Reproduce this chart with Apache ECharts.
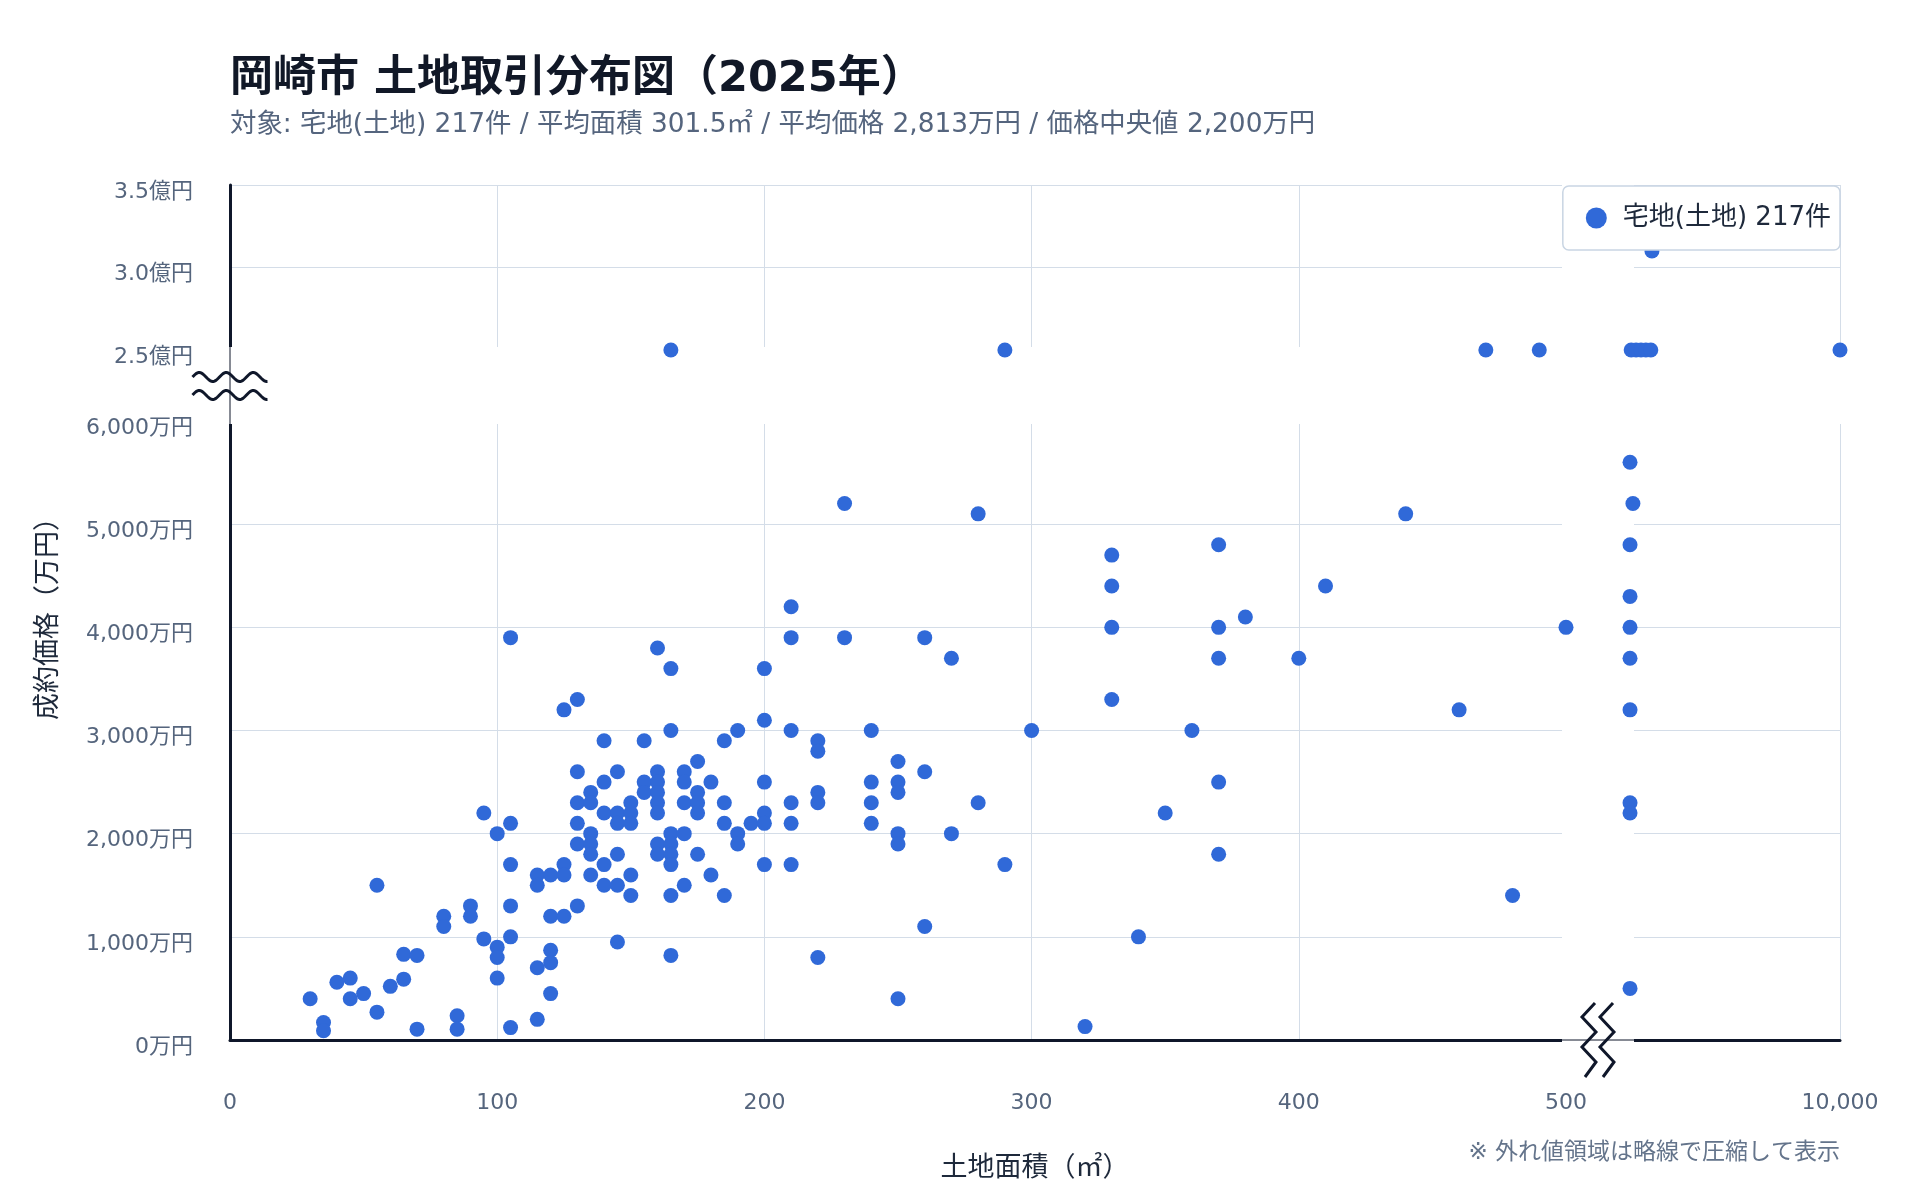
<!DOCTYPE html>
<html lang="ja">
<head>
<meta charset="utf-8">
<title>岡崎市 土地取引分布図</title>
<script src="https://cdn.jsdelivr.net/npm/echarts@6.0.0/dist/echarts.min.js"></script>
<style>
  html, body { margin: 0; padding: 0; background: #fff; }
  #landChart { width: 1920px; height: 1200px; }
</style>
</head>
<body>
<div id="landChart"></div>
<script>
// 取引データ [土地面積(㎡), 成約価格(万円)]
const deals = [
  [105, 3900], [125, 3200], [130, 3300], [140, 2900], [155, 2900], [130, 2600], [145, 2600], [140, 2500],
  [135, 2400], [130, 2300], [135, 2300], [140, 2200], [145, 2200], [150, 2300], [150, 2200], [145, 2100],
  [150, 2100], [155, 2500], [155, 2400], [130, 2100], [135, 2000], [130, 1900], [135, 1900], [135, 1800],
  [145, 1800], [140, 1700], [135, 1600], [140, 1500], [145, 1500], [150, 1600], [150, 1400], [130, 1300],
  [145, 950], [95, 2200], [100, 2000], [105, 2100], [105, 1700], [105, 1300], [105, 1000], [100, 900],
  [100, 800], [95, 980], [100, 600], [105, 120], [115, 1600], [115, 1500], [120, 1600], [125, 1700],
  [125, 1600], [120, 1200], [125, 1200], [120, 870], [120, 750], [115, 700], [120, 450], [115, 200],
  [90, 1300], [90, 1200], [80, 1200], [80, 1100], [55, 1500], [65, 830], [70, 820], [65, 590],
  [60, 520], [45, 600], [40, 560], [50, 450], [45, 400], [30, 400], [55, 270], [35, 170],
  [35, 90], [70, 105], [85, 235], [85, 105],
  [210, 4200], [210, 3900], [230, 3900], [260, 3900], [160, 3800], [165, 3600], [200, 3600], [270, 3700],
  [200, 3100], [165, 3000], [210, 3000], [240, 3000], [300, 3000], [190, 3000], [185, 2900], [220, 2900],
  [220, 2800], [175, 2700], [250, 2700], [260, 2600], [160, 2600], [170, 2600], [160, 2500], [170, 2500],
  [180, 2500], [200, 2500], [240, 2500], [250, 2500], [160, 2400], [175, 2400], [220, 2400], [250, 2400],
  [160, 2300], [170, 2300], [175, 2300], [185, 2300], [210, 2300], [220, 2300], [240, 2300], [280, 2300],
  [160, 2200], [175, 2200], [200, 2200], [185, 2100], [195, 2100], [200, 2100], [210, 2100], [240, 2100],
  [190, 2000], [190, 1900], [165, 2000], [170, 2000], [250, 2000], [250, 1900], [270, 2000], [160, 1900],
  [165, 1900], [160, 1800], [165, 1800], [165, 1700], [175, 1800], [200, 1700], [210, 1700], [290, 1700],
  [180, 1600], [170, 1500], [165, 1400], [185, 1400], [260, 1100], [165, 820], [220, 800], [250, 400],
  [230, 5200], [280, 5100],
  [440, 5100], [330, 4700], [370, 4800], [330, 4400], [410, 4400], [380, 4100], [330, 4000], [370, 4000],
  [370, 3700], [400, 3700], [330, 3300], [360, 3000], [460, 3200], [370, 2500], [350, 2200], [370, 1800],
  [480, 1400], [340, 1000], [320, 130], [500, 4000],
  // 外れ値（面積）
  [2720, 5600], [2820, 5200], [2720, 4800], [2720, 4300], [2720, 4000], [2720, 3700], [2720, 3200],
  [2720, 2300], [2720, 2200], [2720, 500],
  // 外れ値（価格）
  [165, 25000], [290, 25000], [470, 25000], [490, 25000],
  [2760, 25000], [2930, 25000], [3100, 25000], [3270, 25000], [3440, 25000], [3480, 31000], [10000, 25000]
];

const areaSplit = 500;
const areaMax = 10000;
const areaStep = 100;
const priceSplit = 6000;
const priceStep = 1000;
const priceTopMin = 25000;
const priceTopMax = 35000;
const priceTopStep = 5000;

const seriesName = '宅地(土地) 217件';
const titleText = '岡崎市 土地取引分布図（2025年）';
const subText = '対象: 宅地(土地) 217件 / 平均面積 301.5㎡ / 平均価格 2,813万円 / 価格中央値 2,200万円';
const xName = '土地面積（㎡）';
const yName = '成約価格（万円）';
const noteText = '※ 外れ値領域は略線で圧縮して表示';

// レイアウト(px)
const L = 230, XB = 1566, R = 1840;
const T = 185, YB = 350, Y6 = 421, B = 1040;

const font = "'DejaVu Sans', 'Noto Sans CJK JP', sans-serif";
const dotColor = '#3069d8';
const gridColor = '#d4dde8';
const axisColor = '#0f172a';
const labelColor = '#55657d';

const inMain = (d) => d[0] <= areaSplit;
const inLow = (d) => d[1] <= priceSplit;
const panels = [
  deals.filter((d) => inMain(d) && inLow(d)),
  deals.filter((d) => !inMain(d) && inLow(d)),
  deals.filter((d) => inMain(d) && !inLow(d)),
  deals.filter((d) => !inMain(d) && !inLow(d))
];

const split = { show: true, lineStyle: { color: gridColor, width: 1 } };
const thick = { show: true, onZero: false, lineStyle: { color: axisColor, width: 3 } };
const noLine = { show: false, onZero: false };
const label = { color: labelColor, fontSize: 22, fontFamily: font };

function wave(cx, cy) {
  const pts = [];
  for (let i = 0; i <= 75; i++) {
    pts.push([cx - 37.5 + i, cy - 4.5 * Math.sin((i / 27) * Math.PI * 2)]);
  }
  return pts;
}
function zigzag(cx) {
  return [[cx + 6, 1003], [cx - 7, 1017], [cx + 7, 1032], [cx - 7, 1047], [cx + 7, 1062], [cx - 4, 1077]];
}
const ink = { stroke: axisColor, lineWidth: 3, fill: 'none', lineJoin: 'miter' };

const option = {
  animation: false,
  backgroundColor: '#fff',
  textStyle: { fontFamily: font },
  title: {
    left: L,
    top: 55,
    padding: 0,
    itemGap: 5,
    text: titleText,
    subtext: subText,
    textStyle: { fontSize: 43, fontWeight: 'bold', color: '#111827', lineHeight: 50, fontFamily: font },
    subtextStyle: { fontSize: 26.4, color: '#55657e', lineHeight: 30, fontFamily: font }
  },
  legend: {
    right: 1920 - R,
    top: T + 1,
    icon: 'circle',
    itemWidth: 21,
    itemHeight: 21,
    padding: [19, 9, 19, 23],
    backgroundColor: '#fff',
    borderColor: '#c9d5e3',
    borderWidth: 1.5,
    borderRadius: 6,
    textStyle: { fontSize: 26, color: '#1e293b', padding: [0, 0, 0, 11], fontFamily: font },
    data: [seriesName]
  },
  grid: [
    { left: L, top: Y6, width: XB - L, height: B - Y6, outerBoundsMode: 'none' },
    { left: XB, top: Y6, width: R - XB, height: B - Y6, outerBoundsMode: 'none' },
    { left: L, top: T, width: XB - L, height: YB - T, outerBoundsMode: 'none' },
    { left: XB, top: T, width: R - XB, height: YB - T, outerBoundsMode: 'none' }
  ],
  xAxis: [
    {
      gridIndex: 0, type: 'value', min: 0, max: areaSplit, interval: areaStep,
      axisLine: thick, axisTick: { show: false }, splitLine: split,
      axisLabel: Object.assign({ margin: 52, formatter: (v) => v.toLocaleString('en-US') }, label)
    },
    {
      gridIndex: 1, type: 'value', min: areaSplit, max: areaMax, interval: areaMax - areaSplit,
      axisLine: thick, axisTick: { show: false }, splitLine: split,
      axisLabel: Object.assign({ margin: 52, showMinLabel: false,
        formatter: (v) => (v === areaMax ? v.toLocaleString('en-US') : '') }, label)
    },
    {
      gridIndex: 2, type: 'value', min: 0, max: areaSplit, interval: areaStep,
      axisLine: noLine, axisTick: { show: false }, splitLine: split, axisLabel: { show: false }
    },
    {
      gridIndex: 3, type: 'value', min: areaSplit, max: areaMax, interval: areaMax - areaSplit,
      axisLine: noLine, axisTick: { show: false }, splitLine: split, axisLabel: { show: false }
    }
  ],
  yAxis: [
    {
      gridIndex: 0, type: 'value', min: 0, max: priceSplit, interval: priceStep,
      axisLine: thick, axisTick: { show: false }, splitLine: split,
      axisLabel: Object.assign({ margin: 37, verticalAlign: 'top', lineHeight: 14,
        formatter: (v) => v.toLocaleString('en-US') + '万円' }, label)
    },
    {
      gridIndex: 1, type: 'value', min: 0, max: priceSplit, interval: priceStep,
      axisLine: noLine, axisTick: { show: false }, splitLine: split, axisLabel: { show: false }
    },
    {
      gridIndex: 2, type: 'value', min: priceTopMin, max: priceTopMax, interval: priceTopStep,
      axisLine: thick, axisTick: { show: false }, splitLine: split,
      axisLabel: Object.assign({ margin: 37, verticalAlign: 'top', lineHeight: 14,
        formatter: (v) => (v / 10000).toFixed(1) + '億円' }, label)
    },
    {
      gridIndex: 3, type: 'value', min: priceTopMin, max: priceTopMax, interval: priceTopStep,
      axisLine: noLine, axisTick: { show: false }, splitLine: split, axisLabel: { show: false }
    }
  ],
  series: panels.map((data, i) => ({
    name: seriesName,
    type: 'scatter',
    xAxisIndex: i,
    yAxisIndex: i,
    symbolSize: 15,
    clip: false,
    itemStyle: { color: dotColor, opacity: 1 },
    data: data
  })),
  graphic: [
    // 略線の白帯
    { type: 'rect', z: 1, shape: { x: L - 3, y: 347, width: R - L + 6, height: 77 }, style: { fill: '#fff' } },
    { type: 'rect', z: 1, shape: { x: 1562, y: T - 2, width: 72, height: B - T + 4 }, style: { fill: '#fff' } },
    { type: 'line', z: 3, shape: { x1: L, y1: 346, x2: L, y2: 425 }, style: { stroke: axisColor, lineWidth: 1 } },
    { type: 'line', z: 3, shape: { x1: 1561, y1: B, x2: 1635, y2: B }, style: { stroke: axisColor, lineWidth: 1 } },
    { type: 'polyline', z: 3, shape: { points: wave(L, 377) }, style: ink },
    { type: 'polyline', z: 3, shape: { points: wave(L, 395) }, style: ink },
    { type: 'polyline', z: 3, shape: { points: zigzag(1589) }, style: ink },
    { type: 'polyline', z: 3, shape: { points: zigzag(1607) }, style: ink },
    {
      type: 'text', x: 49, y: 612, rotation: Math.PI / 2,
      style: { text: yName, font: '27px ' + font, fill: '#1e293b', align: 'center', verticalAlign: 'middle' }
    },
    {
      type: 'text', x: 1035, y: 1169,
      style: { text: xName, font: '27px ' + font, fill: '#1e293b', align: 'center', verticalAlign: 'middle' }
    },
    {
      type: 'text', x: R, y: 1153,
      style: { text: noteText, font: '23px ' + font, fill: '#64748b', align: 'right', verticalAlign: 'middle' }
    }
  ]
};

const landChart = echarts.init(document.getElementById('landChart'));
landChart.setOption(option);
window.onresize = function () {
  landChart.resize();
};
</script>
</body>
</html>
